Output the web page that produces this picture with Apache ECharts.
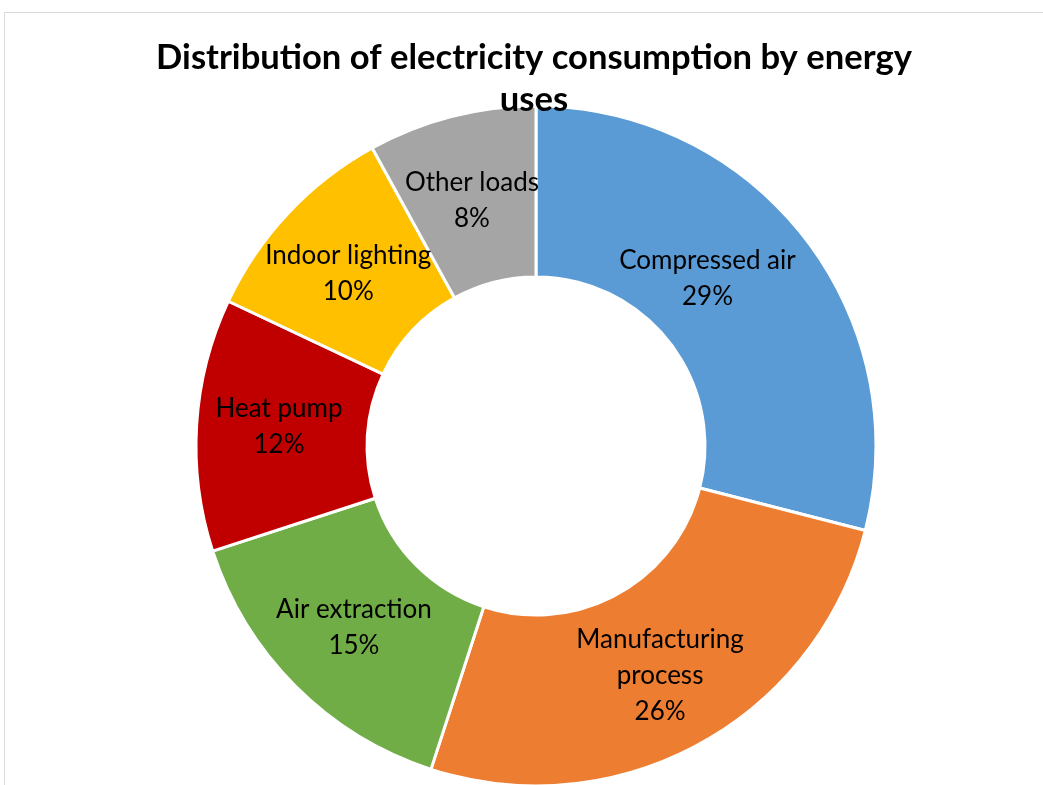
<!DOCTYPE html>
<html>
<head>
<meta charset="utf-8">
<script src="https://cdn.jsdelivr.net/npm/echarts@6/dist/echarts.min.js"></script>
<style>
  html, body { margin: 0; padding: 0; background: #fff; }
  #chart { width: 1043px; height: 785px; }
</style>
</head>
<body>
<div id="chart"></div>
<script>
// Electricity consumption shares by energy use (percent)
const categories = ['Compressed air', 'Manufacturing process', 'Air extraction', 'Heat pump', 'Indoor lighting', 'Other loads'];
const shares = [29, 26, 15, 12, 10, 8];
const colors = ['#5B9BD5', '#ED7D31', '#70AD47', '#C00000', '#FFC000', '#A5A5A5'];

// label text wrapping and nudges for readability inside the ring
const labelNames = { 'Manufacturing process': 'Manufacturing\nprocess' };
const labelNudge = {
  'Compressed air': [-32, -10],
  'Manufacturing process': [0, 4],
  'Heat pump': [0, -3],
  'Indoor lighting': [0, 4],
  'Other loads': [0, 4]
};

const chart = echarts.init(document.getElementById('chart'), null, { renderer: 'canvas' });

chart.setOption({
  backgroundColor: '#ffffff',
  animation: false,
  title: {
    text: 'Distribution of electricity consumption by energy\nuses',
    left: 529,
    top: 32,
    textAlign: 'center',
    z: 10,
    textStyle: {
      fontFamily: 'Lato',
      fontWeight: 'bold',
      fontSize: 34.6,
      lineHeight: 42,
      color: '#000'
    }
  },
  graphic: [{
    type: 'rect',
    shape: { x: 4.5, y: 12.5, width: 1100, height: 1000 },
    style: { fill: 'none', stroke: '#d9d9d9', lineWidth: 1 },
    silent: true,
    z: -1
  }],
  series: [{
    type: 'pie',
    center: [536, 446],
    radius: [169, 340],
    startAngle: 90,
    clockwise: true,
    z: 2,
    itemStyle: { borderColor: '#ffffff', borderWidth: 3 },
    label: {
      show: true,
      position: 'inside',
      fontFamily: 'Lato',
      fontSize: 26,
      lineHeight: 36,
      color: '#000',
      formatter: p => (labelNames[p.name] || p.name) + '\n' + p.value + '%'
    },
    labelLine: { show: false },
    data: categories.map((name, i) => ({
      name: name,
      value: shares[i],
      itemStyle: { color: colors[i] },
      label: labelNudge[name] ? { offset: labelNudge[name] } : {}
    }))
  }]
});
</script>
</body>
</html>
